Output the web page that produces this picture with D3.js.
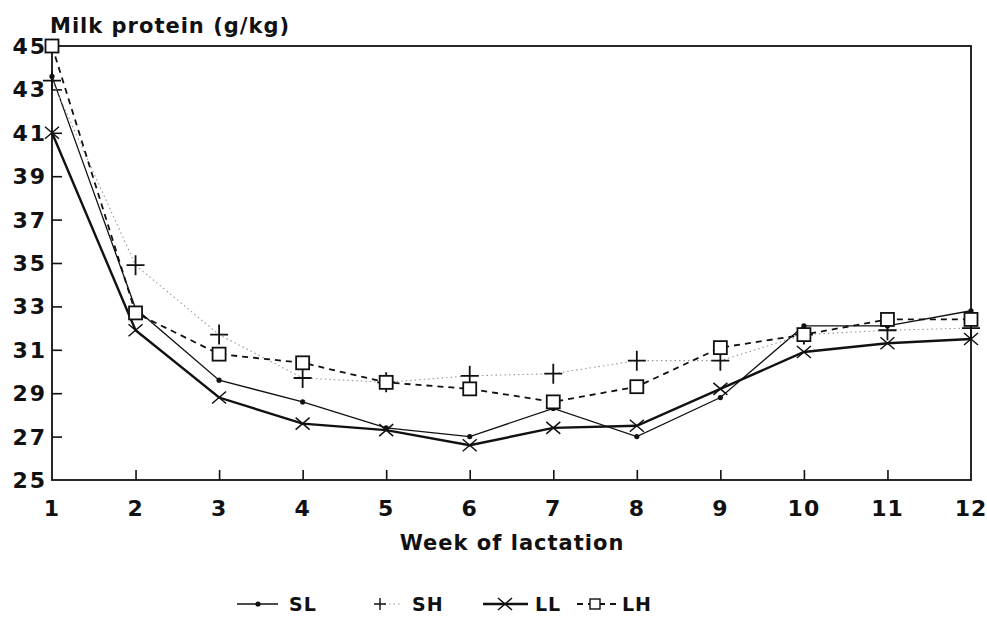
<!DOCTYPE html>
<html>
<head>
<meta charset="utf-8">
<script src="https://cdn.jsdelivr.net/npm/d3@7"></script>
<style>
body{margin:0;background:#fff;}
text{font-family:"DejaVu Sans", sans-serif;font-weight:bold;fill:#111;}
</style>
</head>
<body>
<div id="chart"></div>
<script>
var weeks = [1, 2, 3, 4, 5, 6, 7, 8, 9, 10, 11, 12];
var yTicks = [25, 27, 29, 31, 33, 35, 37, 39, 41, 43, 45];

// series values (g/kg)
var SL = [43.6, 32.9, 29.6, 28.6, 27.4, 27.0, 28.3, 27.0, 28.8, 32.1, 32.1, 32.8];
var SH = [43.4, 34.9, 31.7, 29.7, 29.5, 29.8, 29.9, 30.5, 30.5, 31.7, 31.9, 32.0];
var LL = [41.0, 31.9, 28.8, 27.6, 27.3, 26.6, 27.4, 27.5, 29.2, 30.9, 31.3, 31.5];
var LH = [45.0, 32.7, 30.8, 30.4, 29.5, 29.2, 28.6, 29.3, 31.1, 31.7, 32.4, 32.4];

var W = 987, H = 622;
var plotLeft = 52, plotRight = 971, plotTop = 46, plotBottom = 480;

var svg = d3.select("#chart").append("svg")
    .attr("width", W)
    .attr("height", H);

svg.append("rect").attr("width", W).attr("height", H).attr("fill", "#fff");

var x = d3.scaleLinear().domain([1, 12]).range([plotLeft, plotRight]);
var y = d3.scaleLinear().domain([25, 45]).range([plotBottom, plotTop]);

// frame
svg.append("rect")
    .attr("x", plotLeft).attr("y", plotTop)
    .attr("width", plotRight - plotLeft).attr("height", plotBottom - plotTop)
    .attr("fill", "none").attr("stroke", "#111").attr("stroke-width", 1.8);

// axes (ticks inside)
var xAxis = d3.axisTop(x).tickValues(weeks.slice(1, 11)).tickSize(10).tickFormat("");
svg.append("g").attr("transform", "translate(0," + plotBottom + ")").call(xAxis)
    .call(function(g){ g.select(".domain").remove(); })
    .selectAll("line").attr("stroke", "#111").attr("stroke-width", 1.6);

var yAxis = d3.axisRight(y).tickValues(yTicks.slice(1, 10)).tickSize(10).tickFormat("");
svg.append("g").attr("transform", "translate(" + plotLeft + ",0)").call(yAxis)
    .call(function(g){ g.select(".domain").remove(); })
    .selectAll("line").attr("stroke", "#111").attr("stroke-width", 1.6);

// tick labels
svg.append("g").selectAll("text").data(weeks).enter().append("text")
    .attr("x", function(d){ return x(d); })
    .attr("y", 516)
    .attr("text-anchor", "middle")
    .attr("font-size", 22)
    .attr("letter-spacing", 1)
    .text(function(d){ return d; });

svg.append("g").selectAll("text").data(yTicks).enter().append("text")
    .attr("x", 47)
    .attr("y", function(d){ return y(d) + 8; })
    .attr("text-anchor", "end")
    .attr("font-size", 22)
    .attr("letter-spacing", 2)
    .text(function(d){ return d; });

svg.append("text").attr("x", 50).attr("y", 33)
    .attr("font-size", 21).attr("letter-spacing", 1)
    .text("Milk protein (g/kg)");

svg.append("text").attr("x", 512).attr("y", 550)
    .attr("text-anchor", "middle")
    .attr("font-size", 21).attr("letter-spacing", 1)
    .text("Week of lactation");

// series
var series = [
    {name: "SL", values: SL, width: 1.3, dash: null, color: "#111", marker: "dot"},
    {name: "SH", values: SH, width: 1.1, dash: "1.5,3", color: "#999", marker: "plus"},
    {name: "LL", values: LL, width: 2.4, dash: null, color: "#111", marker: "cross"},
    {name: "LH", values: LH, width: 1.8, dash: "6,5", color: "#111", marker: "square"}
];

var line = d3.line()
    .x(function(d, i){ return x(weeks[i]); })
    .y(function(d){ return y(d); });

function drawMarker(g, kind, cx, cy){
    if(kind == "dot"){
        g.append("circle").attr("cx", cx).attr("cy", cy).attr("r", 2.6).attr("fill", "#111");
    }else if(kind == "plus"){
        g.append("path").attr("d", "M" + (cx - 9) + "," + cy + "H" + (cx + 9) + "M" + cx + "," + (cy - 10) + "V" + (cy + 10))
            .attr("stroke", "#111").attr("stroke-width", 1.8).attr("fill", "none");
    }else if(kind == "cross"){
        g.append("path").attr("d", "M" + (cx - 7) + "," + (cy - 6) + "L" + (cx + 7) + "," + (cy + 6) + "M" + (cx - 7) + "," + (cy + 6) + "L" + (cx + 7) + "," + (cy - 6))
            .attr("stroke", "#111").attr("stroke-width", 1.5).attr("fill", "none");
    }else if(kind == "square"){
        g.append("rect").attr("x", cx - 6.5).attr("y", cy - 6.5).attr("width", 13).attr("height", 13)
            .attr("fill", "#fff").attr("stroke", "#111").attr("stroke-width", 1.8);
    }
}

var gs = svg.append("g").selectAll("g").data(series).enter().append("g");

gs.append("path")
    .attr("d", function(d){ return line(d.values); })
    .attr("fill", "none")
    .attr("stroke", function(d){ return d.color; })
    .attr("stroke-width", function(d){ return d.width; })
    .attr("stroke-dasharray", function(d){ return d.dash; });

gs.each(function(d){
    var g = d3.select(this);
    d.values.forEach(function(v, i){
        drawMarker(g, d.marker, x(weeks[i]), y(v));
    });
});

// legend
var legendItems = [
    {s: series[0], x0: 237, x1: 278, mx: 258, tx: 289},
    {s: series[1], x0: 380, x1: 402, mx: 380, tx: 412},
    {s: series[2], x0: 483, x1: 528, mx: 505, tx: 535},
    {s: series[3], x0: 577, x1: 617, mx: 595, tx: 622}
];
var ly = 604;
var lg = svg.append("g").selectAll("g").data(legendItems).enter().append("g");
lg.append("line")
    .attr("x1", function(d){ return d.x0; })
    .attr("x2", function(d){ return d.x1; })
    .attr("y1", ly).attr("y2", ly)
    .attr("stroke", function(d){ return d.s.color; })
    .attr("stroke-width", function(d){ return d.s.width; })
    .attr("stroke-dasharray", function(d){ return d.s.dash; });
lg.each(function(d){
    var g = d3.select(this);
    var k = d.s.marker;
    if(k == "square"){
        g.append("rect").attr("x", d.mx - 5).attr("y", ly - 5).attr("width", 10).attr("height", 10)
            .attr("fill", "#fff").attr("stroke", "#111").attr("stroke-width", 1.4);
    }else if(k == "plus"){
        g.append("path").attr("d", "M" + (d.mx - 6) + "," + ly + "H" + (d.mx + 6) + "M" + d.mx + "," + (ly - 6) + "V" + (ly + 6))
            .attr("stroke", "#111").attr("stroke-width", 1.4);
    }else{
        drawMarker(g, k, d.mx, ly);
    }
});
lg.append("text")
    .attr("x", function(d){ return d.tx; })
    .attr("y", ly + 7)
    .attr("font-size", 19)
    .attr("letter-spacing", 1)
    .text(function(d){ return d.s.name; });
</script>
</body>
</html>
